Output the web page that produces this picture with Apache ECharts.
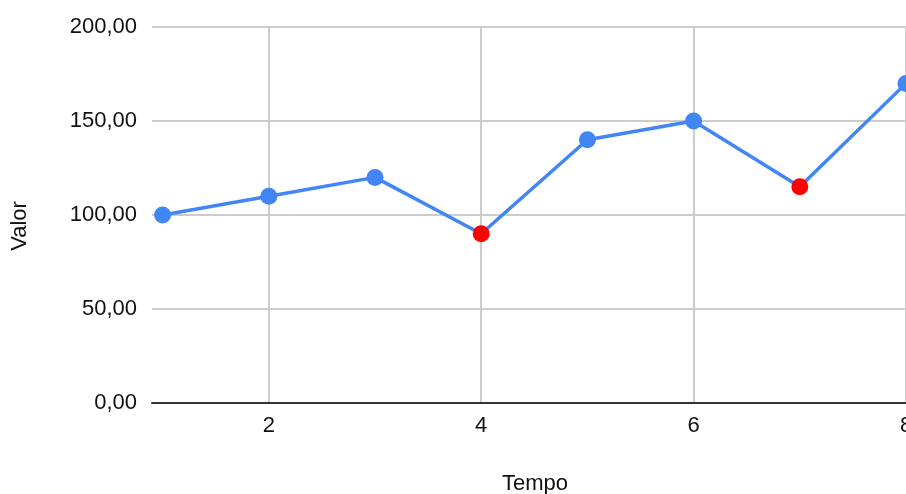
<!DOCTYPE html>
<html>
<head>
<meta charset="utf-8">
<script src="https://cdn.jsdelivr.net/npm/echarts@6/dist/echarts.min.js"></script>
<style>
html,body{margin:0;padding:0;background:#fff;}
#c{width:906px;height:494px;}
</style>
</head>
<body>
<div id="c"></div>
<script>
var tempo = [1, 2, 3, 4, 5, 6, 7, 8];
var valor = [100, 110, 120, 90, 140, 150, 115, 170];
var destaque = [false, false, false, true, false, false, true, false];
var xTicks = [2, 4, 6, 8];
var xTitle = 'Tempo';
var yTitle = 'Valor';

var FONT = '"Liberation Sans", Arial, sans-serif';
var TXT = '#111111';
var chart = echarts.init(document.getElementById('c'), null, {renderer: 'canvas'});
var data = tempo.map(function (t, i) {
  return {
    value: [t, valor[i]],
    itemStyle: {color: destaque[i] ? '#ff0000' : '#4285f4'}
  };
});
chart.setOption({
  animation: false,
  backgroundColor: '#ffffff',
  grid: {left: 152, right: 0, top: 27, bottom: 91, containLabel: false, outerBoundsMode: 'none'},
  graphic: [
    {type: 'text', x: 535, y: 484, style: {text: xTitle, fontFamily: FONT, fontSize: 22, fill: TXT, align: 'center', verticalAlign: 'middle'}},
    {type: 'text', rotation: Math.PI / 2, x: 20, y: 226, style: {text: yTitle, fontFamily: FONT, fontSize: 22, fill: TXT, align: 'center', verticalAlign: 'middle'}}
  ],
  xAxis: {
    type: 'value',
    min: 0.9,
    max: 8,
    axisLine: {show: true, onZero: false, lineStyle: {color: '#333', width: 2}},
    axisTick: {show: false, customValues: xTicks},
    axisLabel: {customValues: xTicks, fontFamily: FONT, fontSize: 22, color: TXT, margin: 12, showMinLabel: true, showMaxLabel: true},
    splitLine: {show: true, lineStyle: {color: '#cccccc', width: 2}}
  },
  yAxis: {
    type: 'value',
    min: 0,
    max: 200,
    interval: 50,
    axisLine: {show: false},
    axisTick: {show: false},
    axisLabel: {
      fontFamily: FONT, fontSize: 22, color: TXT, margin: 15,
      formatter: function (v) { return v.toFixed(2).replace('.', ','); }
    },
    splitLine: {show: true, lineStyle: {color: '#cccccc', width: 2}}
  },
  series: [{
    type: 'line',
    data: data,
    clip: false,
    symbol: 'circle',
    symbolSize: 17,
    lineStyle: {color: '#4285f4', width: 3.5},
    itemStyle: {color: '#4285f4'}
  }]
});
</script>
</body>
</html>
